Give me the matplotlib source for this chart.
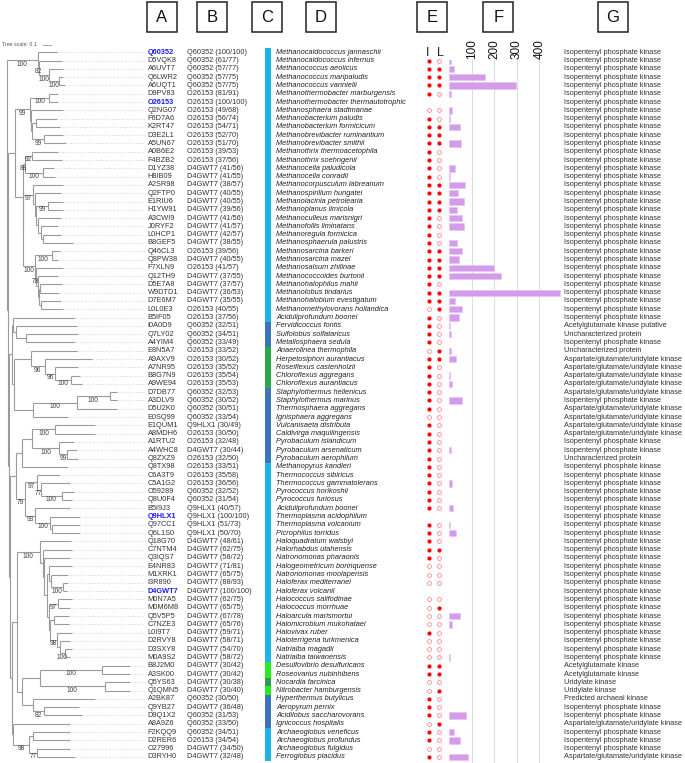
import matplotlib
matplotlib.use("Agg")
import matplotlib.pyplot as plt
from matplotlib.patches import Rectangle

plt.rcParams['font.family'] = ['Liberation Sans', 'DejaVu Sans']

# ---- data -------------------------------------------------------------
IDS = ["Q60352", "D5VQK8", "A6UVT7", "Q6LWR2", "A6UQT1", "D9PV83", "O26153", "Q2NG07",
       "F6D7A6", "K2RT47", "D3E2L1", "A5UN67", "A0B6E2", "F4BZB2", "D1YZ38", "H8IB09",
       "A2SR98", "Q2FTP0", "E1RIU6", "H1YW91", "A3CWI9", "J0RYF2", "L0HCP1", "B8GEF5",
       "Q46CL3", "Q8PW38", "F7XLN9", "Q12TH9", "D5E7A8", "W9DTD1", "D7E6M7", "L0L0E3",
       "B5IF05", "I0A0D9", "Q7LY02", "A4YIM4", "E8N5A7", "A9AXV9", "A7NR95", "B8G7N9",
       "A9WE94", "D7DB77", "A3DLV9", "D5U2K0", "E0SQ99", "E1QUM1", "A8MDH6", "A1RTU2",
       "A4WHC8", "Q8ZXZ9", "Q8TX98", "C6A3T9", "C5A1G2", "O59289", "Q8U0F4", "B5I9J3",
       "Q9HLX1", "Q97CC1", "Q6L1S0", "Q18G70", "C7NTM4", "Q3IQS7", "E4NR83", "M1XRK1",
       "I3R890", "D4GWT7", "M0N7A5", "M0M6M8", "Q5V5P5", "C7NZE3", "L0I9T7", "D2RVY8",
       "D3SXY8", "M0A9S2", "B8J2M0", "A3SK00", "Q5YS63", "Q1QMN5", "A2BK87", "Q9YB27",
       "D9Q1X2", "A8A9Z6", "F2KQQ9", "D2RER6", "O27996", "D3RYH0"]

REFERENCES = ["Q60352", "O26153", "Q9HLX1", "D4GWT7"]

BEST_HIT = ["Q60352 (100/100)", "Q60352 (61/77)", "Q60352 (57/77)", "Q60352 (57/75)",
            "Q60352 (57/75)", "O26153 (81/91)", "O26153 (100/100)", "O26153 (49/68)",
            "O26153 (56/74)", "O26153 (54/71)", "O26153 (52/70)", "O26153 (51/70)",
            "O26153 (39/53)", "O26153 (37/56)", "D4GWT7 (41/56)", "D4GWT7 (41/55)",
            "D4GWT7 (38/57)", "D4GWT7 (40/55)", "D4GWT7 (40/55)", "D4GWT7 (39/56)",
            "D4GWT7 (41/56)", "D4GWT7 (41/57)", "D4GWT7 (42/57)", "D4GWT7 (38/55)",
            "O26153 (39/56)", "D4GWT7 (40/55)", "O26153 (41/57)", "D4GWT7 (37/55)",
            "D4GWT7 (37/57)", "D4GWT7 (36/53)", "D4GWT7 (35/55)", "O26153 (40/55)",
            "O26153 (37/56)", "Q60352 (32/51)", "Q60352 (34/51)", "Q60352 (33/49)",
            "O26153 (33/52)", "O26153 (30/52)", "O26153 (35/52)", "O26153 (35/54)",
            "O26153 (35/53)", "Q60352 (32/53)", "Q60352 (30/52)", "Q60352 (30/51)",
            "Q60352 (33/54)", "Q9HLX1 (30/49)", "O26153 (30/50)", "O26153 (32/48)",
            "D4GWT7 (30/44)", "O26153 (32/50)", "O26153 (33/51)", "O26153 (35/58)",
            "O26153 (36/56)", "Q60352 (32/52)", "Q60352 (31/54)", "Q9HLX1 (40/57)",
            "Q9HLX1 (100/100)", "Q9HLX1 (51/73)", "Q9HLX1 (50/70)", "D4GWT7 (48/61)",
            "D4GWT7 (62/75)", "D4GWT7 (58/72)", "D4GWT7 (71/81)", "D4GWT7 (65/75)",
            "D4GWT7 (88/93)", "D4GWT7 (100/100)", "D4GWT7 (62/75)", "D4GWT7 (65/75)",
            "D4GWT7 (67/78)", "D4GWT7 (65/76)", "D4GWT7 (59/71)", "D4GWT7 (58/71)",
            "D4GWT7 (54/70)", "D4GWT7 (58/72)", "D4GWT7 (30/42)", "D4GWT7 (30/42)",
            "D4GWT7 (30/38)", "D4GWT7 (30/40)", "Q60352 (30/50)", "D4GWT7 (36/48)",
            "Q60352 (31/53)", "Q60352 (33/50)", "Q60352 (34/51)", "O26153 (34/54)",
            "D4GWT7 (34/50)", "D4GWT7 (32/48)"]

SPECIES = ["Methanocaldococcus jannaschii", "Methanocaldococcus infernus", "Methanococcus aeolicus",
           "Methanococcus maripaludis", "Methanococcus vannielii", "Methanothermobacter marburgensis",
           "Methanothermobacter thermautotrophic", "Methanosphaera stadtmanae", "Methanobacterium paludis",
           "Methanobacterium formicicum", "Methanobrevibacter ruminantium", "Methanobrevibacter smithii",
           "Methanothrix thermoacetophila", "Methanothrix soehngenii", "Methanocella paludicola",
           "Methanocella conradii", "Methanocorpusculum labreanum", "Methanospirillum hungatei",
           "Methanolacinia petrolearia", "Methanoplanus limicola", "Methanoculleus marisnigri",
           "Methanofollis liminatans", "Methanoregula formicica", "Methanosphaerula palustris",
           "Methanosarcina barkeri", "Methanosarcina mazei", "Methanosalsum zhilinae",
           "Methanococcoides burtonii", "Methanohalophilus mahii", "Methanolobus tindarius",
           "Methanohalobium evestigatum", "Methanomethylovorans hollandica", "Aciduliprofundum boonei",
           "Fervidicoccus fontis", "Sulfolobus solfataricus", "Metallosphaera sedula",
           "Anaerolinea thermophila", "Herpetosiphon aurantiacus", "Roseiflexus castenholzii",
           "Chloroflexus aggregans", "Chloroflexus aurantiacus", "Staphylothermus hellenicus",
           "Staphylothermus marinus", "Thermosphaera aggregans", "Ignisphaera aggregans",
           "Vulcanisaeta distributa", "Caldivirga maquilingensis", "Pyrobaculum islandicum",
           "Pyrobaculum arsenaticum", "Pyrobaculum aerophilum", "Methanopyrus kandleri",
           "Thermococcus sibiricus", "Thermococcus gammatolerans", "Pyrococcus horikoshii",
           "Pyrococcus furiosus", "Aciduliprofundum boonei", "Thermoplasma acidophilum",
           "Thermoplasma volcanium", "Picrophilus torridus", "Haloquadratum walsbyi",
           "Halorhabdus utahensis", "Natronomonas pharaonis", "Halogeometricum borinquense",
           "Natronomonas moolapensis", "Haloferax mediterranei", "Haloferax volcanii",
           "Halococcus salifodinae", "Halococcus morrhuae", "Haloarcula marismortui",
           "Halomicrobium mukohataei", "Halovivax ruber", "Haloterrigena turkmenica",
           "Natrialba magadii", "Natrialba taiwanensis", "Desulfovibrio desulfuricans",
           "Roseovarius nubinhibens", "Nocardia farcinica", "Nitrobacter hamburgensis",
           "Hyperthermus butylicus", "Aeropyrum pernix", "Acidilobus saccharovorans",
           "Ignicoccus hospitalis", "Archaeoglobus veneficus", "Archaeoglobus profundus",
           "Archaeoglobus fulgidus", "Ferroglobus placidus"]

# phylum of each row (column C)
PHYLUM = (["Eury"] * 33 + ["Cren"] * 3 + ["Chloro"] * 5 + ["Cren"] * 9 + ["Eury"] * 24
          + ["Proteo"] * 2 + ["Actino"] + ["Proteo"] + ["Cren"] * 4 + ["Eury"] * 4)
PHYLUM_COLORS = {"Eury": "#20b4e6", "Cren": "#3a75b8", "Chloro": "#2ca84c",
                 "Proteo": "#22ee22", "Actino": "#2f9a55"}

# column E: activity with I and L (1 filled, 0 open, None = reference)
I_ACT = [None, 1, 1, 1, 1, 1, None, 0, 1, 1, 1, 1, 1, 1, 1, 1, 1, 1, 1, 1, 1, 1, 1, 1,
         1, 1, 1, 1, 1, 1, 1, 0, 1, 1, 1, 1, 0, 1, 1, 1, 1, 1, 1, 1, 0, 1, 1, 1, 1, 1,
         1, 1, 1, 1, 1, 1, None, 1, 1, 1, 1, 1, 0, 0, 0, None, 0, 0, 0, 0, 1, 0, 0, 0,
         1, 1, 0, 0, 1, 1, 1, 0, 1, 1, 0, 1]
L_ACT = [None, 0, 1, 1, 1, 0, None, 0, 0, 1, 1, 1, 0, 0, 0, 0, 1, 1, 1, 1, 0, 0, 0, 0,
         1, 1, 1, 1, 0, 1, 1, 1, 0, 0, 0, 0, 1, 1, 0, 0, 0, 0, 0, 0, 0, 0, 0, 0, 0, 0,
         0, 0, 0, 0, 0, 0, None, 0, 0, 0, 1, 0, 0, 0, 0, None, 0, 1, 0, 0, 0, 0, 0, 0,
         1, 1, 0, 1, 0, 0, 0, 1, 0, 0, 0, 0]

# column F: bar values
BARS = [0, 9, 20, 161, 295, 10, 0, 12, 3, 47, 0, 52, 0, 0, 25, 3, 71, 41, 66, 37, 56, 66,
        0, 35, 56, 44, 200, 231, 0, 490, 25, 57, 44, 3, 7, 0, 9, 31, 0, 3, 13, 0, 56, 0,
        0, 0, 0, 0, 10, 0, 0, 0, 13, 0, 0, 18, 0, 4, 29, 0, 0, 0, 0, 0, 0, 0, 0, 0, 50, 12,
        0, 0, 0, 6, 0, 0, 0, 0, 0, 0, 75, 0, 24, 50, 0, 85]
BAR_TICKS = [100, 200, 300, 400]

# column G: annotation
ANNOT_NAMES = {"IPK": "Isopentenyl phosphate kinase",
               "AGU": "Aspartate/glutamate/uridylate kinase",
               "AGKP": "Acetylglutamate kinase putative",
               "AGK": "Acetylglutamate kinase",
               "UNC": "Uncharacterized protein",
               "UK": "Uridylate kinase",
               "PAK": "Predicted archaeal kinase"}
ANNOT = (["IPK"] * 33 + ["AGKP", "UNC", "IPK", "UNC"] + ["AGU"] * 5 + ["IPK"] + ["AGU"] * 4
         + ["IPK"] * 2 + ["UNC"] + ["IPK"] * 24 + ["AGK"] * 2 + ["UK"] * 2 + ["PAK"]
         + ["IPK"] * 2 + ["AGU"] + ["IPK"] * 3 + ["AGU"])

HEADERS = ["A", "B", "C", "D", "E", "F", "G"]

# tree (newick, branch lengths, bootstrap support on internal nodes)
CLADE_A = "(Q60352:0.238,(D5VQK8:0.279,(A6UVT7:0.175,(Q6LWR2:0.05,A6UQT1:0.071)100:0.125)100:0.125)82:0.021)100:0.388"
CLADE_MB = ("((D9PV83:0.113,O26153:0.113)100:0.242,(Q2NG07:0.404,((F6D7A6:0.267,K2RT47:0.3):0.046,"
            "(D3E2L1:0.242,A5UN67:0.283)99:0.138):0.017):0.013)99:0.188")
CLADE_88 = "((A0B6E2:0.333,F4BZB2:0.375)92:0.083,(D1YZ38:0.142,H8IB09:0.154)100:0.221)88:0.029"
CLADE_97 = ("(A2SR98:0.375,(Q2FTP0:0.325,((E1RIU6:0.188,H1YW91:0.188)99:0.154,(A3CWI9:0.279,"
            "(J0RYF2:0.221,(L0HCP1:0.217,B8GEF5:0.375):0.033):0.029):0.029):0.017):0.017)97:0.125")
CLADE_MS = ("((Q46CL3:0.104,Q8PW38:0.083)100:0.208,(F7XLN9:0.342,(Q12TH9:0.25,((D5E7A8:0.271,"
            "W9DTD1:0.242):0.008,(D7E6M7:0.246,L0L0E3:0.275):0.025):0.013):0.029)78:0.013)100:0.146")
CLADE_T = "(B5IF05:0.771,(I0A0D9:0.758,(Q7LY02:0.654,A4YIM4:0.613):0.125):0.033):0.021"
CLADE_CF = ("(E8N5A7:0.575,(A9AXV9:0.583,(A7NR95:0.292,(B8G7N9:0.117,A9WE94:0.138)100:0.196)96:0.125)"
            "96:0.179):0.208")
CLADE_ST = "(((D7DB77:0.083,A3DLV9:0.083)100:0.417,D5U2K0:0.5)100:0.542,E0SQ99:0.438):0.242"
CLADE_TP = ("(((E1QUM1:0.5,A8MDH6:0.5)100:0.283,(A1RTU2:0.183,(A4WHC8:0.133,Q8ZXZ9:0.146)99:0.092)"
            "100:0.338):0.133,Q8TX98:0.583):0.071")
CLADE_79 = ("((C6A3T9:0.292,(C5A1G2:0.367,(O59289:0.146,Q8U0F4:0.125)100:0.263)77:0.05)97:0.146,"
            "(B5I9J3:0.438,(Q9HLX1:0.375,(Q97CC1:0.354,Q6L1S0:0.354):0.021)100:0.188)93:0.125)79:0.113")
CLADE_HALO = ("(Q18G70:0.383,(C7NTM4:0.363,(Q3IQS7:0.321,((E4NR83:0.279,(M1XRK1:0.221,(I3R890:0.063,"
              "D4GWT7:0.042)100:0.158):0.017):0.033,((M0N7A5:0.167,M0M6M8:0.146)97:0.117,((Q5V5P5:0.188,"
              "C7NZE3:0.188):0.042,(L0I9T7:0.179,(D2RVY8:0.133,(D3SXY8:0.083,M0A9S2:0.063)100:0.071)"
              ":0.025)98:0.092):0.013):0.029):0.029):0.021):0.033)100:0.292")
CLADE_BAC = ("(((B8J2M0:0.354,A3SK00:0.354)100:0.779,(Q5YS63:0.313,Q1QMN5:0.313)100:0.821):0.221,"
             "(A2BK87:0.771,(Q9YB27:0.446,D9Q1X2:0.479)82:0.133):0.138):0.063")
CLADE_AG = ("(A8A9Z6:0.708,((F2KQQ9:0.458,D2RER6:0.458):0.05,(O27996:0.408,D3RYH0:0.471)77:0.1)"
            "98:0.2):0.021")

TREE = ("(" + CLADE_A + ",(((" + CLADE_MB + ",(" + CLADE_88 + ",(" + CLADE_97 + "," + CLADE_MS
        + "):0.008):0.096):0.083,((" + CLADE_T + ",(" + CLADE_CF + "," + CLADE_ST + "):0.029):0.029,(("
        + CLADE_TP + "," + CLADE_79 + "):0.075,((" + CLADE_HALO + "," + CLADE_BAC + "):0.063,"
        + CLADE_AG + "):0.021):0.008):0.013):0.021));")
TREE_SCALE = 0.1


def parse_newick(s):
    s = "".join(s.split())
    pos = 0

    def node():
        nonlocal pos
        kids = []
        if s[pos] == "(":
            pos += 1
            while True:
                kids.append(node())
                if s[pos] == ",":
                    pos += 1
                    continue
                pos += 1
                break
        start = pos
        while pos < len(s) and s[pos] not in ":,);":
            pos += 1
        name = s[start:pos]
        length = 0.0
        if pos < len(s) and s[pos] == ":":
            pos += 1
            start = pos
            while s[pos] not in ",);":
                pos += 1
            length = float(s[start:pos])
        return {"name": name, "len": length, "kids": kids}

    return node()


# ---- layout -----------------------------------------------------------
W, H = 685, 763
ROW0, STEP = 52.3, 8.29
X0, PX_PER_UNIT = 6.7, 80
LEADER_END = 145

fig = plt.figure(figsize=(W / 100, H / 100), dpi=100)
ax = fig.add_axes([0, 0, 1, 1])
ax.set_xlim(0, W)
ax.set_ylim(H, 0)
ax.axis("off")

ys = [ROW0 + STEP * i for i in range(len(IDS))]
row_of = {name: i for i, name in enumerate(IDS)}

tree = parse_newick(TREE)


def layout(node, depth):
    node["x"] = X0 + depth * PX_PER_UNIT
    if node["kids"]:
        for k in node["kids"]:
            layout(k, depth + k["len"])
        node["y"] = (node["kids"][0]["y"] + node["kids"][-1]["y"]) / 2
    else:
        node["y"] = ys[row_of[node["name"]]]


TREE_COLOR = "#9a9a9a"


def draw(node):
    if node["kids"]:
        ax.plot([node["x"], node["x"]], [node["kids"][0]["y"], node["kids"][-1]["y"]],
                color=TREE_COLOR, lw=0.8, solid_capstyle="butt")
        for k in node["kids"]:
            ax.plot([node["x"], k["x"]], [k["y"], k["y"]], color=TREE_COLOR, lw=0.8,
                    solid_capstyle="butt")
            if k["kids"] and k["name"]:
                ax.text((node["x"] + k["x"]) / 2, k["y"] + 0.5, k["name"], ha="center",
                        va="top", fontsize=4.8, color="#444444")
            draw(k)
    else:
        ax.plot([node["x"] + 1.5, LEADER_END], [node["y"], node["y"]], color="#c8c8c8",
                lw=0.6, ls=(0, (1, 2)))


layout(tree, 0.0)
draw(tree)

# tree scale
ax.text(2, 45, "Tree scale: %g" % TREE_SCALE, fontsize=3.8, color="#555555", va="center")
ax.plot([43, 43 + TREE_SCALE * PX_PER_UNIT], [45, 45], color="#999999", lw=0.6)

# headers
HEADER_X = [161.7, 211.7, 266.7, 321, 432, 498.3, 613]
for letter, hx in zip(HEADERS, HEADER_X):
    ax.add_patch(Rectangle((hx - 15, 2), 30, 29.5, fill=False, ec="#222222", lw=1.1))
    ax.text(hx, 17, letter, ha="center", va="center", fontsize=12, color="#111111")

# columns A, B, D, G
for i, y in enumerate(ys):
    ref = IDS[i] in REFERENCES
    ax.text(147.7, y, IDS[i], fontsize=5.35, va="center",
            color="#1a1aff" if ref else "#333333", fontweight="bold" if ref else "normal")
    ax.text(186.7, y, BEST_HIT[i], fontsize=5.35, va="center", color="#333333")
    ax.text(276, y, SPECIES[i], fontsize=5.35, va="center", style="italic", color="#222222")
    ax.text(564, y, ANNOT_NAMES[ANNOT[i]], fontsize=5.35, va="center", color="#333333")

# column C strip
ax.bar([268] * len(ys), [STEP] * len(ys), bottom=[y - STEP / 2 for y in ys], width=6,
       color=[PHYLUM_COLORS[p] for p in PHYLUM], linewidth=0)

# column E dots
ax.text(427.7, 53, "I", fontsize=9, ha="center", va="center", color="#222222")
ax.text(440, 53, "L", fontsize=9, ha="center", va="center", color="#222222")
for xcol, acts in ((429.3, I_ACT), (439.0, L_ACT)):
    fx = [xcol for a in acts if a == 1]
    fy = [y for a, y in zip(acts, ys) if a == 1]
    ox = [xcol for a in acts if a == 0]
    oy = [y for a, y in zip(acts, ys) if a == 0]
    ax.scatter(fx, fy, s=9, color="#ff0000", linewidths=0)
    ax.scatter(ox, oy, s=8, facecolor="white", edgecolor="#ff8c8c", linewidths=0.6)

# column F bars
axf = fig.add_axes([449 / W, 0, 113 / W, (H - 60) / H])
axf.set_xlim(0, 500)
axf.set_ylim(H, 60)
bar_y = [y for v, y in zip(BARS, ys) if v > 0]
bar_v = [v for v in BARS if v > 0]
axf.barh(bar_y, bar_v, height=6.4, color="#d39be9", edgecolor="#e6c5f3", linewidth=0.5)
axf.set_xticks(BAR_TICKS)
axf.set_xticklabels([str(t) for t in BAR_TICKS])
axf.xaxis.tick_top()
axf.tick_params(axis="x", length=0, labelsize=8.5, labelrotation=90, pad=1, colors="#111111")
axf.set_yticks([])
axf.grid(axis="x", color="#dcdcdc", lw=0.8)
axf.set_axisbelow(True)
for sp in axf.spines.values():
    sp.set_visible(False)
axf.patch.set_alpha(0)

fig.savefig("out.png", dpi=100)
